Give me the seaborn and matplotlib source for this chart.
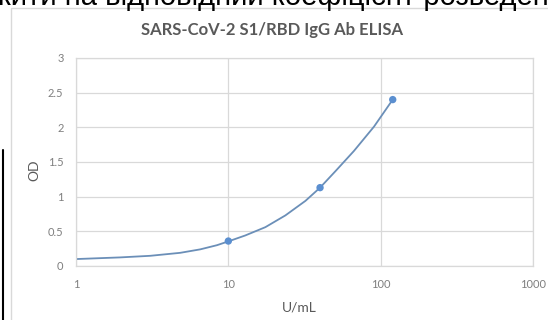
import pandas as pd
import matplotlib.pyplot as plt
import seaborn as sns
from matplotlib.lines import Line2D
from matplotlib.patches import Rectangle

# Standard points (U/mL vs OD)
std_conc = [10, 40, 120]
std_od = [0.36, 1.13, 2.40]

# Fitted curve
curve_conc = [1, 1.95, 3.07, 4.83, 6.54, 8.42, 10, 12.9, 17.5, 23.7, 32.1, 40, 50.6, 66.8, 90.4, 120]
curve_od = [0.10, 0.124, 0.147, 0.19, 0.24, 0.30, 0.355, 0.44, 0.56, 0.73, 0.94, 1.13, 1.37,
            1.66, 2.01, 2.40]

x_ticks = [1, 10, 100, 1000]
x_tick_labels = ['1', '10', '100', '1000']
y_ticks = [0, 0.5, 1, 1.5, 2, 2.5, 3]
y_tick_labels = ['0', '0.5', '1', '1.5', '2', '2.5', '3']

std_df = pd.DataFrame({'conc': std_conc, 'od': std_od})
curve_df = pd.DataFrame({'conc': curve_conc, 'od': curve_od})

sns.set_style("white")
plt.rcParams['font.family'] = ['Lato', 'DejaVu Sans']

fig = plt.figure(figsize=(5.48, 3.2), dpi=100)
ax = fig.add_axes([76 / 548, 1 - 266 / 320, 457 / 548, 208 / 320])

# Curve and points
sns.lineplot(data=curve_df, x='conc', y='od', ax=ax, color='#6b8fb8', linewidth=1.3)
sns.scatterplot(data=std_df, x='conc', y='od', ax=ax, color='#5b8fd0', s=28,
                edgecolor='none', zorder=3)

ax.set_xscale('log')
ax.set_xlim(1, 1000)
ax.set_ylim(0, 3)
ax.set_xticks(x_ticks)
ax.set_xticklabels(x_tick_labels)
ax.set_yticks(y_ticks)
ax.set_yticklabels(y_tick_labels)
ax.minorticks_off()
ax.tick_params(length=0, labelsize=8, labelcolor='#7f7f7f')
ax.tick_params(axis='y', pad=9)
ax.tick_params(axis='x', pad=9)

# Light grid like Excel
ax.grid(True, color='#d9d9d9', linewidth=0.9)
for sp in ax.spines.values():
    sp.set_color('#d9d9d9')
    sp.set_linewidth(0.9)

ax.set_xlabel('U/mL', fontsize=10, color='#595959')
ax.set_ylabel('OD', fontsize=10, color='#595959')
ax.xaxis.set_label_coords(0.488, -0.17)
ax.yaxis.set_label_coords(-0.078, 0.46)

fig.text(272 / 548, 1 - 30 / 320, 'SARS-CoV-2 S1/RBD IgG Ab ELISA', ha='center', va='center',
         fontsize=12, fontweight='bold', color='#595959')

# Chart frame and page bits around it
fig.add_artist(Rectangle((11 / 548, -0.1), 1.1, 1 - 8 / 320 + 0.1, transform=fig.transFigure,
                         fill=False, edgecolor='#d9d9d9', linewidth=1))
fig.add_artist(Line2D([3 / 548, 3 / 548], [0, 1 - 150 / 320], transform=fig.transFigure,
                      color='black', linewidth=1.5))
fig.text(-2 / 548, 1 - 5 / 320, 'кити на відповідний коефіцієнт розведен', ha='left',
         va='baseline', fontsize=21, color='black', family=['Liberation Sans', 'DejaVu Sans'])

plt.savefig('out.png', dpi=100)
